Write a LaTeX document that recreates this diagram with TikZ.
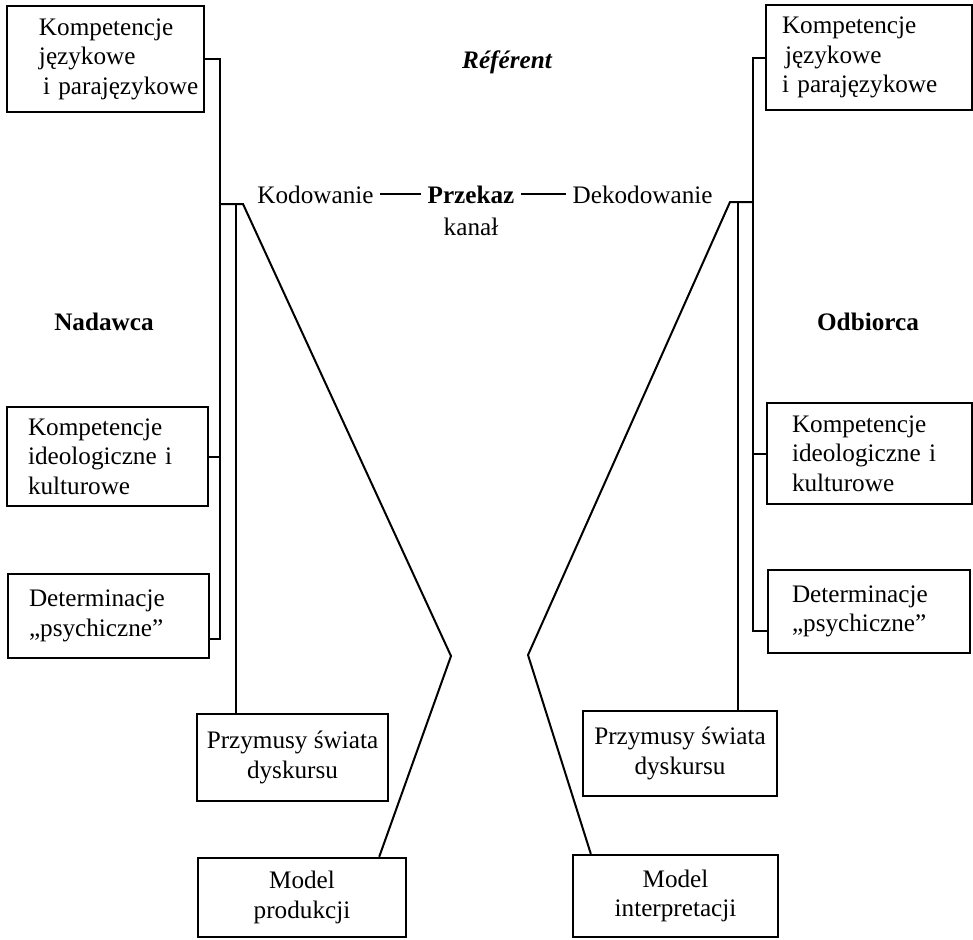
\documentclass[tikz,border=0pt]{standalone}
\usepackage{fontspec}
\setmainfont{Liberation Serif}
\usepackage{tikz}
\usetikzlibrary{positioning}
\tikzstyle{box} = [rectangle, 
draw=black, 
line width=1.2pt, 
align=left, 
inner sep=0pt, 
execute at begin node={\hyphenpenalty=10000\relax},
font=\fontsize{12.6}{14.8}\selectfont]
\tikzstyle{cbox} = [box, align=center]
\tikzstyle{word} = [inner sep=3pt, font=\fontsize{12.6}{14.8}\selectfont]
\tikzstyle{bword} = [word, font=\fontsize{12.6}{14.8}\selectfont\bfseries]
\tikzstyle{wire} = [line width=1pt]

\begin{document}
\begin{tikzpicture}[x=0.5pt,y=-0.5pt]
\useasboundingbox (0,0) rectangle (973,939);

\node (kjl) [box, text width=66.5pt, minimum width=98.5pt, minimum height=53pt] at (105.5,59) {Kompetencje\\językowe\\\hspace*{2pt}i~parajęzykowe};
\node (kil) [box, text width=79.5pt, minimum width=100.5pt, minimum height=49.5pt] at (107.5,456.5) {Kompetencje\\ideologiczne~i\\kulturowe};
\node (detl) [box, text width=79.5pt, minimum width=100.5pt, minimum height=42pt] at (108.5,616) {Determinacje\\„psychiczne”};
\node (psl) [cbox, minimum width=95.5pt, minimum height=43.5pt] at (292.5,757.5) {Przymusy świata\\dyskursu};
\node (mp) [cbox, minimum width=104pt, minimum height=39.5pt] at (302,897.5) {Model\\produkcji};

\node (kjr) [box, text width=87pt, minimum width=103pt, minimum height=52.5pt] at (869,57.5) {Kompetencje\\\hspace*{1.5pt}językowe\\i~parajęzykowe};
\node (kir) [box, text width=77.5pt, minimum width=102.5pt, minimum height=50.5pt] at (869.5,453.5) {Kompetencje\\ideologiczne~i\\kulturowe};
\node (detr) [box, text width=77pt, minimum width=101pt, minimum height=41.5pt] at (869,611.5) {Determinacje\\„psychiczne”};
\node (psr) [cbox, minimum width=97pt, minimum height=42.5pt] at (680,753.5) {Przymusy świata\\dyskursu};
\node (mi) [cbox, minimum width=102.5pt, minimum height=41pt] at (675.5,896) {Model\\interpretacji};

\node (ref) [word, font=\fontsize{12.6}{14.8}\selectfont\bfseries\itshape] at (507,62) {Référent};
\node (nad) [bword] at (104,322) {Nadawca};
\node (odb) [bword] at (868,322) {Odbiorca};

\node (kod) [word, anchor=base west] at (251,203) {Kodowanie};
\node (prz) [bword, anchor=base] at (471,203) {Przekaz};
\node (kan) [word, below=1pt of prz] {kanał};
\node (dek) [word, anchor=base east] at (719,203) {Dekodowanie};
\draw [wire] (kod) -- (prz);
\draw [wire] (prz) -- (dek);

\coordinate (lb) at (220,0);
\coordinate (lk) at (243,204);
\coordinate (la) at (451,656);
\coordinate (ld) at ([yshift=10pt]detl.south east);
\draw [wire] (kjl.east) -- (kjl.east -| lb) -- (lb |- ld) -- (ld);
\draw [wire] (kil.east) -- (kil.east -| lb);
\draw [wire] (lb |- lk) -- (lk) -- (la) -- ([xshift=-14pt]mp.north east);
\draw [wire] ([xshift=20pt]psl.north west) -- ([xshift=20pt]psl.north west |- lk);

\coordinate (rb) at (753,0);
\coordinate (rk) at (730,202);
\coordinate (ra) at (528,655);
\coordinate (rd) at ([yshift=11.5pt]detr.south west);
\draw [wire] (kjr.west) -- (kjr.west -| rb) -- (rb |- rd) -- (rd);
\draw [wire] (kir.west) -- (kir.west -| rb);
\draw [wire] (rb |- rk) -- (rk) -- (ra) -- ([xshift=9.5pt]mi.north west);
\draw [wire] ([xshift=-20pt]psr.north east) -- ([xshift=-20pt]psr.north east |- rk);

\end{tikzpicture}
\end{document}
